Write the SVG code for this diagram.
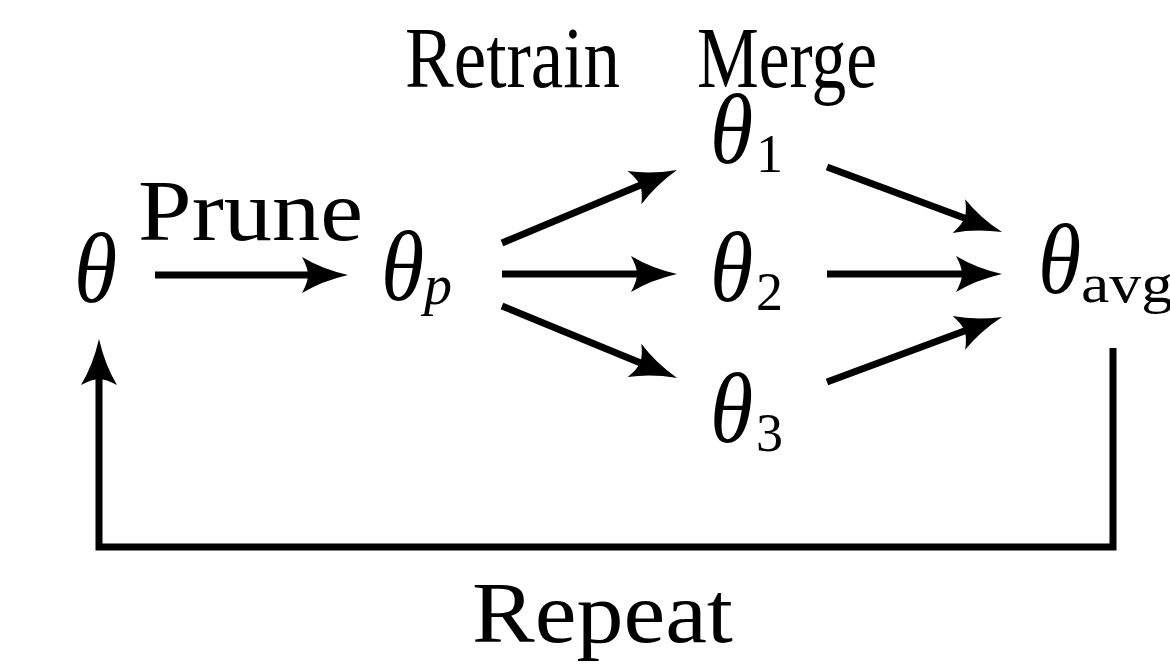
<svg xmlns="http://www.w3.org/2000/svg" width="1170" height="667" viewBox="0 0 1170 667">
<style>
.lbl{font-family:"Liberation Serif","DejaVu Serif",serif;font-size:86px;fill:#000}
.sym{font-family:"Liberation Serif","DejaVu Serif",serif;font-style:italic;font-size:88px;fill:#000}
.sub{font-family:"Liberation Serif","DejaVu Serif",serif;font-size:54px;fill:#000}
.subi{font-family:"Liberation Serif","DejaVu Serif",serif;font-style:italic;font-size:56px;fill:#000}
.edge{fill:none;stroke:#000;stroke-width:7;stroke-linecap:butt;stroke-linejoin:miter}
</style>
<defs>
<marker id="ah" markerUnits="userSpaceOnUse" markerWidth="60" markerHeight="50" refX="0" refY="0" orient="auto" overflow="visible">
<path d="M38,0 Q12,-6 -8,-18 Q-2,-7 -2,0 Q-2,7 -8,18 Q12,6 38,0Z" fill="#000"/>
</marker>
</defs>
<rect width="1170" height="667" fill="#fff"/>
<g id="connectors">
<line class="edge" x1="155" y1="275" x2="310" y2="275" marker-end="url(#ah)"/>
<line class="edge" x1="502" y1="243" x2="641.9" y2="184.6" marker-end="url(#ah)"/>
<line class="edge" x1="502" y1="274" x2="639" y2="274" marker-end="url(#ah)"/>
<line class="edge" x1="502" y1="306" x2="641.9" y2="363.5" marker-end="url(#ah)"/>
<line class="edge" x1="827" y1="167" x2="966.4" y2="218.8" marker-end="url(#ah)"/>
<line class="edge" x1="827" y1="274" x2="964" y2="274" marker-end="url(#ah)"/>
<line class="edge" x1="827" y1="382" x2="966.4" y2="330.2" marker-end="url(#ah)"/>
<path class="edge" d="M1113,348 V547 H99 V377" marker-end="url(#ah)"/>
</g>
<g id="labels">
<text class="lbl" x="138" y="240" textLength="225" lengthAdjust="spacingAndGlyphs">Prune</text>
<text class="lbl" x="405" y="87" textLength="215" lengthAdjust="spacingAndGlyphs">Retrain</text>
<text class="lbl" x="697" y="87" textLength="180" lengthAdjust="spacingAndGlyphs">Merge</text>
<text class="lbl" x="472" y="642" textLength="261" lengthAdjust="spacingAndGlyphs">Repeat</text>
</g>
<g id="node-theta">
<text class="sym" transform="translate(74,302) scale(1,1.12)">θ</text>
</g>
<g id="node-theta-p">
<text class="sym" transform="translate(381,300) scale(1,1.12)">θ</text>
<text class="subi" x="424" y="304">p</text>
</g>
<g id="node-theta1">
<text class="sym" transform="translate(710,163) scale(1,1.12)">θ</text>
<text class="sub" x="756" y="172">1</text>
</g>
<g id="node-theta2">
<text class="sym" transform="translate(710,301) scale(1,1.12)">θ</text>
<text class="sub" x="756" y="310">2</text>
</g>
<g id="node-theta3">
<text class="sym" transform="translate(710,442) scale(1,1.12)">θ</text>
<text class="sub" x="756" y="451">3</text>
</g>
<g id="node-theta-avg">
<text class="sym" transform="translate(1038,293) scale(1,1.12)">θ</text>
<text class="sub" x="1081" y="302" textLength="92" lengthAdjust="spacingAndGlyphs">avg</text>
</g>
</svg>
